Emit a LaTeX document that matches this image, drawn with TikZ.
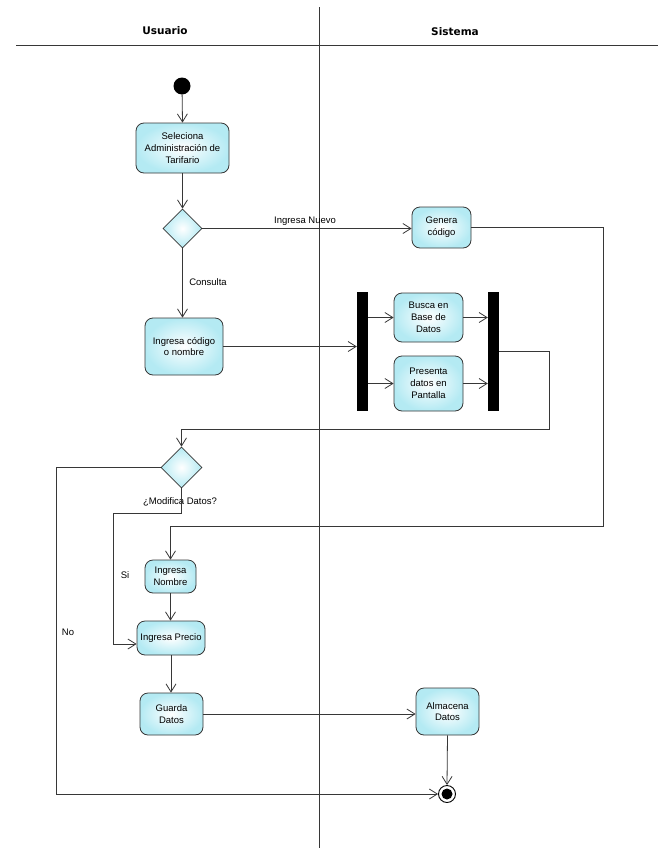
\documentclass[tikz,border=0pt]{standalone}
\usepackage{fontspec}
\setmainfont{Liberation Sans}
\newfontfamily\hdrfont{DejaVu Sans}
\usetikzlibrary{arrows.meta,shapes.geometric,calc}
\definecolor{actfill}{RGB}{180,234,243}
\definecolor{linec}{RGB}{55,55,55}
\tikzset{
  act/.style={draw=linec, line width=0.8pt, rounded corners=8pt, align=center,
    inner color=white, outer color=actfill, inner sep=1pt,
    font=\fontsize{9.5}{11.8}\selectfont},
  dec/.style={draw=linec, line width=0.8pt, diamond, inner sep=0pt,
    inner color=white, outer color=actfill},
  bar/.style={fill=black, draw=none, inner sep=0pt},
  arr/.style={draw=linec, line width=0.8pt, -{Straight Barb[length=8pt,width=10pt]}},
  ln/.style={draw=linec, line width=0.8pt},
  lbl/.style={font=\fontsize{9.5}{11}\selectfont, inner sep=1pt},
  hdr/.style={font=\hdrfont\bfseries\fontsize{10.5}{12}\selectfont}
}
\begin{document}
\begin{tikzpicture}[x=1pt,y=-1pt]
\useasboundingbox (0,0) rectangle (658,854);
\fill[white] (0,0) rectangle (658,854);
% swimlanes
\coordinate (hl) at (16,45);
\coordinate (hr) at (658,45);
\coordinate (vt) at (319,7);
\coordinate (vb) at (319,848);
\draw[ln] (hl) -- (hr);
\draw[ln] (vt) -- (vb);
\node[hdr] (usuario) at (165,31) {Usuario};
\node[hdr] (sistema) at (455,32) {Sistema};
% nodes
\node[circle, fill=black, minimum size=17pt, inner sep=0pt] (init) at (182,86) {};
\node[act, minimum width=93pt, minimum height=50pt] (sel) at (182.5,148) {Seleciona\\Administración de\\Tarifario};
\node[dec, minimum width=39pt, minimum height=39pt] (d1) at (182.5,228.5) {};
\node[act, minimum width=59pt, minimum height=41pt] (gen) at (441.5,227.5) {Genera\\código};
\node[act, minimum width=78pt, minimum height=57pt] (ing) at (184,346.5) {Ingresa código\\o nombre};
\node[bar, minimum width=11pt, minimum height=119pt] (fork) at (362.5,351.5) {};
\node[act, minimum width=69pt, minimum height=49pt] (busca) at (428.5,317.5) {Busca en\\Base de\\Datos};
\node[act, minimum width=69pt, minimum height=55pt] (pres) at (428.5,383.5) {Presenta\\datos en\\Pantalla};
\node[bar, minimum width=11pt, minimum height=119pt] (join) at (493.5,351.5) {};
\node[dec, minimum width=41pt, minimum height=41pt] (d2) at (181.5,467.5) {};
\node[act, minimum width=51pt, minimum height=33pt] (nom) at (170.5,576.5) {Ingresa\\Nombre};
\node[act, minimum width=68pt, minimum height=34pt] (precio) at (171,638) {Ingresa Precio};
\node[act, minimum width=63pt, minimum height=42pt] (guarda) at (171.5,714) {Guarda\\Datos};
\node[act, minimum width=63pt, minimum height=47pt] (alm) at (447.5,711.5) {Almacena\\Datos};
\node[circle, draw=black, fill=white, line width=0.9pt, minimum size=17pt, inner sep=0pt] (fin) at (447,794) {};
\node[circle, fill=black, minimum size=11pt, inner sep=0pt] (fincore) at (fin.center) {};
% connector bend points
\coordinate (g1) at (603,526);
\coordinate (j1) at (549,429);
\coordinate (n1) at (56,794);
\coordinate (s1) at (113,513);
% connectors
\draw[arr] (init) -- (sel.north);
\draw[arr] (sel.south) -- (sel.south |- d1.north);
\draw[arr] (d1.east) -- (d1.east -| gen.west);
\node[lbl] (lnuevo) at (305,221) {Ingresa Nuevo};
\draw[arr] (gen.east) -| (g1) -| (nom.north);
\draw[arr] (d1.south) -- (d1.south |- ing.north);
\node[lbl] (lcons) at (208,282) {Consulta};
\draw[arr] (ing.east) -- (ing.east -| fork.west);
\draw[arr] (fork.east |- busca.west) -- (busca.west);
\draw[arr] (fork.east |- pres.west) -- (pres.west);
\draw[arr] (busca.east) -- (busca.east -| join.west);
\draw[arr] (pres.east) -- (pres.east -| join.west);
\draw[arr] (join.east) -| (j1) -| (d2.north);
\node[lbl] (lmod) at (180,502) {¿Modifica Datos?};
\draw[arr] (d2.west) -| (n1) -- (fin.west);
\node[lbl] (lno) at (68,632) {No};
\draw[arr] (d2.south) |- (s1) |- ([yshift=-6pt]precio.west);
\node[lbl] (lsi) at (125,575) {Si};
\draw[arr] (nom.south) -- (nom.south |- precio.north);
\draw[arr] (precio.south) -- (precio.south |- guarda.north);
\draw[arr] (guarda.east) -- (guarda.east -| alm.west);
\draw[arr] (alm.south) -- (fin.north);
\end{tikzpicture}
\end{document}
